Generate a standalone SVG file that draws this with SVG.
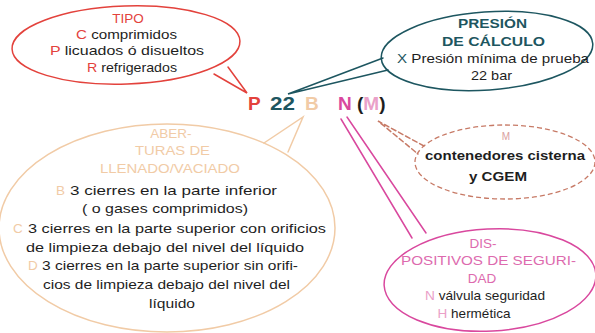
<svg xmlns="http://www.w3.org/2000/svg" width="595" height="333" viewBox="0 0 595 333">
<style>
text{font-family:"Liberation Sans",Arial,sans-serif;font-size:13.5px;fill:#1e1e1e}
.b{font-weight:bold}
.red{fill:#e3423c}
.teal{fill:#1d5660}
.org{fill:#f1cba6}
.mag{fill:#d9489e}
.fmag{fill:#eaa0c8}
.pk{fill:#dd6aae}
.fm{fill:#d9a0a0}
.c{text-anchor:middle}
.code{font-size:19px;font-weight:bold}
</style>
<rect width="595" height="333" fill="#ffffff"/>
<g id="connectors" fill="none" stroke-width="1.5" stroke-linecap="round">
<path d="M214,74 L247,93 L228,67" stroke="#e3423c"/>
<path d="M383,58 L288,94 L388,70" stroke="#1d5660"/>
<path d="M264,143 L303,117 L288,152" stroke="#f1cba6"/>
<path d="M424,146 L378,121 L418,154" stroke="#c77a66" stroke-dasharray="5 3"/>
<path d="M341,119 L412,238 M347,117 L426,233" stroke="#d9489e"/>
</g>
<g id="tipo">
<ellipse cx="126" cy="45" rx="114" ry="39" fill="none" stroke="#e3423c" stroke-width="1.5" transform="rotate(-2 126 45)"/>
<text x="128" y="23" class="c red">TIPO</text>
<text x="76" y="39" textLength="101" lengthAdjust="spacingAndGlyphs"><tspan class="red">C</tspan> comprimidos</text>
<text x="50" y="55" textLength="154" lengthAdjust="spacingAndGlyphs"><tspan class="red">P</tspan> licuados ó disueltos</text>
<text x="87" y="72" textLength="90" lengthAdjust="spacingAndGlyphs"><tspan class="red">R</tspan> refrigerados</text>
</g>
<g id="presion">
<ellipse cx="487" cy="51" rx="106" ry="39" fill="none" stroke="#1d5660" stroke-width="1.5" transform="rotate(-4 487 51)"/>
<text x="458" y="28" class="b teal" textLength="69" lengthAdjust="spacingAndGlyphs">PRESIÓN</text>
<text x="442" y="46" class="b teal" textLength="103" lengthAdjust="spacingAndGlyphs">DE CÁLCULO</text>
<text x="397" y="63" textLength="192" lengthAdjust="spacingAndGlyphs"><tspan class="teal">X</tspan> Presión mínima de prueba</text>
<text x="471" y="80" textLength="41" lengthAdjust="spacingAndGlyphs">22 bar</text>
</g>
<g id="codigo">
<text x="248" y="110" class="code red">P</text>
<text x="270" y="110" class="code teal" textLength="25" lengthAdjust="spacingAndGlyphs">22</text>
<text x="305" y="110" class="code org">B</text>
<text x="338" y="110" class="code mag">N</text>
<text x="357" y="110" class="code">(<tspan class="fmag">M</tspan>)</text>
</g>
<g id="aberturas">
<ellipse cx="167" cy="228" rx="168" ry="104" fill="none" stroke="#f1cba6" stroke-width="1.5"/>
<text x="171" y="138" class="c org">ABER-</text>
<text x="135" y="155" class="org" textLength="75" lengthAdjust="spacingAndGlyphs">TURAS DE</text>
<text x="100" y="173" class="org" textLength="140" lengthAdjust="spacingAndGlyphs">LLENADO/VACIADO</text>
<text x="56" y="195" class="org">B</text>
<text x="70" y="195" textLength="207" lengthAdjust="spacingAndGlyphs">3 cierres en la parte inferior</text>
<text x="82" y="213" textLength="166" lengthAdjust="spacingAndGlyphs">( o gases comprimidos)</text>
<text x="13" y="233" class="org">C</text>
<text x="28" y="233" textLength="298" lengthAdjust="spacingAndGlyphs">3 cierres en la parte superior con orificios</text>
<text x="26" y="252" textLength="278" lengthAdjust="spacingAndGlyphs">de limpieza debajo del nivel del líquido</text>
<text x="28" y="270" class="org">D</text>
<text x="42" y="270" textLength="256" lengthAdjust="spacingAndGlyphs">3 cierres en la parte superior sin orifi-</text>
<text x="43" y="289" textLength="247" lengthAdjust="spacingAndGlyphs">cios de limpieza debajo del nivel del</text>
<text x="149" y="308" textLength="46" lengthAdjust="spacingAndGlyphs">líquido</text>
</g>
<g id="contenedores">
<ellipse cx="505" cy="162" rx="90" ry="37" fill="none" stroke="#c77a66" stroke-width="1.3" stroke-dasharray="5 3"/>
<text x="506" y="140" class="c fm" style="font-size:10px">M</text>
<text x="425" y="160" class="b" textLength="160" lengthAdjust="spacingAndGlyphs">contenedores cisterna</text>
<text x="469" y="181" class="b" textLength="58" lengthAdjust="spacingAndGlyphs">y CGEM</text>
</g>
<g id="dispositivos">
<ellipse cx="490" cy="280" rx="106" ry="51" fill="none" stroke="#d9489e" stroke-width="1.5" transform="rotate(-3 490 280)"/>
<text x="483" y="248" class="c pk">DIS-</text>
<text x="401" y="265" class="pk" textLength="175" lengthAdjust="spacingAndGlyphs">POSITIVOS DE SEGURI-</text>
<text x="482" y="283" class="c pk">DAD</text>
<text x="425" y="300" textLength="120" lengthAdjust="spacingAndGlyphs"><tspan class="fmag">N</tspan> válvula seguridad</text>
<text x="474" y="318" class="c"><tspan class="fmag">H</tspan> hermética</text>
</g>
</svg>
